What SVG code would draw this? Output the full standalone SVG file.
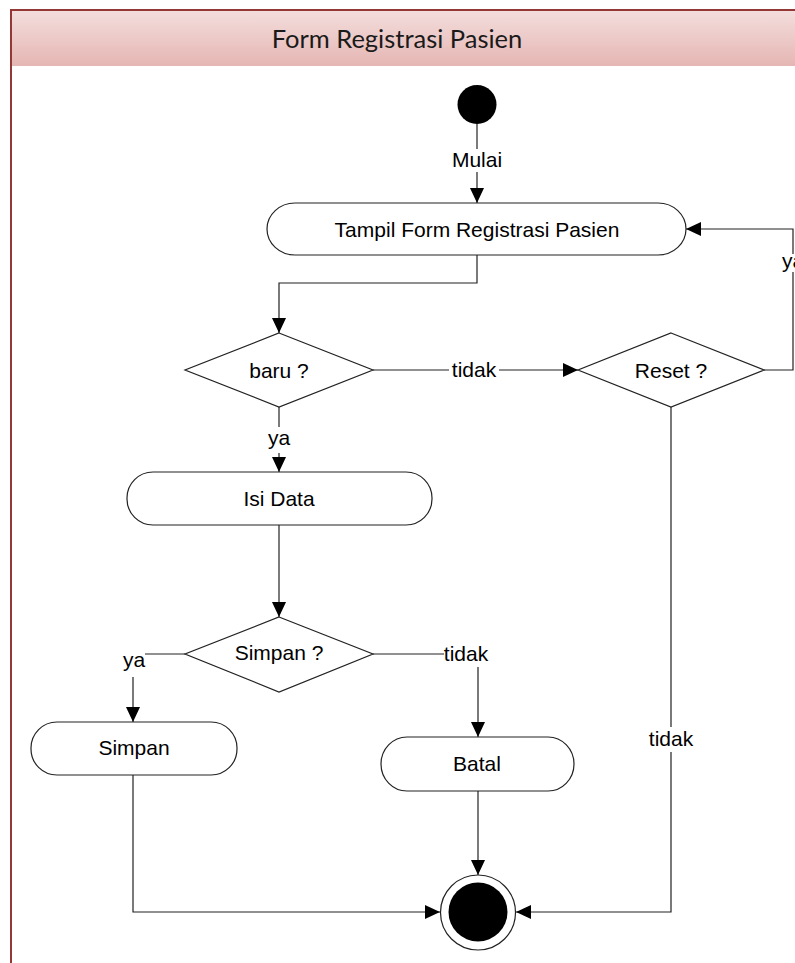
<svg xmlns="http://www.w3.org/2000/svg" width="795" height="963" viewBox="0 0 795 963">
<style>
.lbl{font-family:"Liberation Sans",Arial,sans-serif;font-size:21px;fill:#000;text-anchor:middle}
.shape{fill:#fff;stroke:#222;stroke-width:1.2}
.conn{fill:none;stroke:#222;stroke-width:1.2}
.bg{fill:#fff;stroke:none}
</style>
<defs>
<linearGradient id="hdr" x1="0" y1="0" x2="0" y2="1">
<stop offset="0" stop-color="#f3dedd"/>
<stop offset="1" stop-color="#e5b6b3"/>
</linearGradient>
<marker id="arr" markerUnits="userSpaceOnUse" markerWidth="15" markerHeight="14" refX="15" refY="7" orient="auto">
<path d="M0,0 L15,7 L0,14 Z" fill="#000"/>
</marker>
</defs>
<rect width="795" height="963" fill="#fff"/>
<g id="frame">
<rect x="11" y="10" width="790" height="56" fill="url(#hdr)"/>
<path d="M11,963 V10 H801" fill="none" stroke="#953735" stroke-width="2"/>
<text x="397" y="48" font-family="Lato,'Open Sans',sans-serif" font-size="25.5" fill="#1a1a1a" text-anchor="middle">Form Registrasi Pasien</text>
</g>
<g id="connectors">
<path class="conn" d="M477,124 V203" marker-end="url(#arr)"/>
<path class="conn" d="M477,255 V283 H279 V333" marker-end="url(#arr)"/>
<path class="conn" d="M373,370 H578" marker-end="url(#arr)"/>
<path class="conn" d="M764,370 H793 V229 H686" marker-end="url(#arr)"/>
<path class="conn" d="M279,407 V472" marker-end="url(#arr)"/>
<path class="conn" d="M279,525 V617" marker-end="url(#arr)"/>
<path class="conn" d="M185,654 H133 V722" marker-end="url(#arr)"/>
<path class="conn" d="M373,654 H478 V737" marker-end="url(#arr)"/>
<path class="conn" d="M133,775 V912 H440" marker-end="url(#arr)"/>
<path class="conn" d="M478,791 V875" marker-end="url(#arr)"/>
<path class="conn" d="M671,407 V912 H516" marker-end="url(#arr)"/>
<rect class="bg" x="451" y="149" width="52" height="23"/>
<text class="lbl" x="477" y="167">Mulai</text>
<rect class="bg" x="449" y="360" width="50" height="20"/>
<text class="lbl" x="474" y="377">tidak</text>
<rect class="bg" x="780" y="254" width="26" height="18"/>
<text class="lbl" x="793" y="268">ya</text>
<rect class="bg" x="266" y="427" width="26" height="26"/>
<text class="lbl" x="279" y="445">ya</text>
<rect class="bg" x="120" y="645" width="25" height="32"/>
<text class="lbl" x="134" y="667">ya</text>
<rect class="bg" x="444" y="643" width="46" height="24"/>
<text class="lbl" x="466" y="661">tidak</text>
<rect class="bg" x="648" y="727" width="47" height="25"/>
<text class="lbl" x="671" y="746">tidak</text>
</g>
<g id="start">
<circle cx="477" cy="104.5" r="19.5" fill="#000"/>
</g>
<g id="tampil">
<rect class="shape" x="267" y="203" width="419" height="52" rx="28" ry="26"/>
<text class="lbl" x="477" y="236.5">Tampil Form Registrasi Pasien</text>
</g>
<g id="baru">
<path class="shape" d="M279,333 L373,370 L279,407 L185,370 Z"/>
<text class="lbl" x="279" y="377.5">baru ?</text>
</g>
<g id="reset">
<path class="shape" d="M671,333 L764,370 L671,407 L578,370 Z"/>
<text class="lbl" x="671" y="377.5">Reset ?</text>
</g>
<g id="isidata">
<rect class="shape" x="127" y="472" width="305" height="53" rx="26" ry="26"/>
<text class="lbl" x="279" y="505.5">Isi Data</text>
</g>
<g id="simpanq">
<path class="shape" d="M279,617 L373,654 L279,692 L185,654 Z"/>
<text class="lbl" x="279" y="660">Simpan ?</text>
</g>
<g id="simpan">
<rect class="shape" x="31" y="722" width="206" height="53" rx="26" ry="26"/>
<text class="lbl" x="134" y="755">Simpan</text>
</g>
<g id="batal">
<rect class="shape" x="381" y="737" width="193" height="54" rx="26" ry="27"/>
<text class="lbl" x="477" y="771">Batal</text>
</g>
<g id="end">
<circle cx="478" cy="912.5" r="37.5" fill="#fff" stroke="#222" stroke-width="1.2"/>
<circle cx="478" cy="912" r="29.5" fill="#000"/>
</g>
</svg>
